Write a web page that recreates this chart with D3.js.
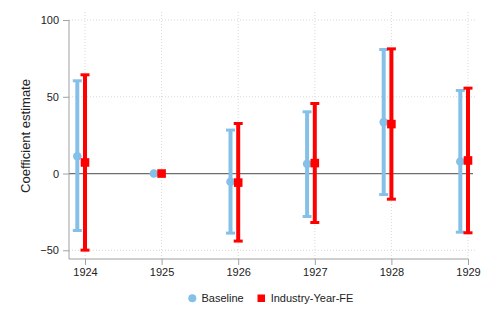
<!DOCTYPE html>
<html><head><meta charset="utf-8">
<script src="https://cdn.jsdelivr.net/npm/d3@7"></script>
<style>body{margin:0;background:#fff}svg{display:block}text{font-family:"Liberation Sans",Arial,sans-serif}</style>
</head><body>
<svg id="c" width="488" height="326"></svg>
<script>
const years = [1924, 1925, 1926, 1927, 1928, 1929];
const baseEst = [11.3, 0, -5.4, 6.3, 33.5, 7.8];
const baseLo  = [-37.1, 0, -38.8, -28.0, -13.7, -38.2];
const baseHi  = [60.4, 0, 28.3, 40.2, 80.8, 54.1];
const fePt    = [7.2, 0, -5.9, 6.8, 32.2, 8.5];
const feLo    = [-49.9, 0, -44.0, -31.9, -16.7, -38.6];
const feHi    = [64.3, 0, 32.6, 45.6, 81.2, 55.6];
const yTicks = [-50, 0, 50, 100];
const seriesNames = ["Baseline", "Industry-Year-FE"];
const blue = "#85C0E8", red = "#FF0000";

const svg = d3.select("#c");
const x = d3.scaleLinear().domain([1924, 1929]).range([85, 468]);
const y = d3.scaleLinear().domain([-50, 100]).range([250.3, 20]);
const pLeft = 69, pBottom = 259, pRight = 476, pTop = 12;
const off = 7.7;

// grid
const g = svg.append("g");
g.selectAll(".vg").data(years).enter().append("line")
  .attr("x1", d => x(d)).attr("x2", d => x(d)).attr("y1", pTop).attr("y2", pBottom)
  .attr("stroke", "#d9d9d9").attr("stroke-width", 1).attr("stroke-dasharray", "1,2");
g.selectAll(".hg").data(yTicks.filter(d => d !== 0)).enter().append("line")
  .attr("x1", pLeft).attr("x2", pRight).attr("y1", d => y(d)).attr("y2", d => y(d))
  .attr("stroke", "#d9d9d9").attr("stroke-width", 1).attr("stroke-dasharray", "1,2");
// zero line
svg.append("line").attr("x1", pLeft).attr("x2", 473).attr("y1", y(0)).attr("y2", y(0))
  .attr("stroke", "#6e6e6e").attr("stroke-width", 1.3);

// axes
const yAxis = d3.axisLeft(y).tickValues(yTicks).tickSize(6).tickPadding(4);
const ya = svg.append("g").attr("transform", `translate(${pLeft},0)`).call(yAxis);
ya.select(".domain").attr("d", `M-0,${y(100)}V${pBottom}`);
const xAxis = d3.axisBottom(x).tickValues(years).tickFormat(d3.format("d")).tickSize(6).tickPadding(3);
const xa = svg.append("g").attr("transform", `translate(0,${pBottom})`).call(xAxis);
xa.select(".domain").attr("d", `M${pLeft},0H${x(1929)}`);
[ya, xa].forEach(a => {
  a.selectAll(".domain").attr("stroke", "#a0a0a0").attr("stroke-width", 1);
  a.selectAll(".tick line").attr("stroke", "#a0a0a0");
  a.selectAll("text").attr("font-size", 11).attr("fill", "#222").attr("font-family", "Liberation Sans, Arial, sans-serif");
});

svg.append("text").attr("transform", `translate(30,${(74+198)/2}) rotate(-90)`)
  .attr("text-anchor", "middle").attr("font-size", 13).attr("fill", "#222")
  .text("Coefficient estimate");

function drawSeries(est, lo, hi, dx, color, shape) {
  const grp = svg.append("g");
  years.forEach((yr, i) => {
    const cx = x(yr) + dx;
    if (hi[i] !== lo[i]) {
      grp.append("line").attr("x1", cx).attr("x2", cx).attr("y1", y(lo[i])).attr("y2", y(hi[i]))
        .attr("stroke", color).attr("stroke-width", 4);
      [lo[i], hi[i]].forEach(v => grp.append("line").attr("x1", cx - 4.5).attr("x2", cx + 4.5)
        .attr("y1", y(v)).attr("y2", y(v)).attr("stroke", color).attr("stroke-width", 3));
    }
    if (shape === "circle") grp.append("circle").attr("cx", cx).attr("cy", y(est[i])).attr("r", 4.3).attr("fill", color);
    else grp.append("rect").attr("x", cx - 4.3).attr("y", y(est[i]) - 4.3).attr("width", 8.6).attr("height", 8.6).attr("fill", color);
  });
}
drawSeries(baseEst, baseLo, baseHi, -off, blue, "circle");
drawSeries(fePt, feLo, feHi, 0, red, "square");

// legend
const lg = svg.append("g");
lg.append("circle").attr("cx", 192.3).attr("cy", 298.3).attr("r", 4).attr("fill", blue);
lg.append("text").attr("x", 201.5).attr("y", 302).attr("font-size", 11).attr("fill", "#222").text(seriesNames[0]);
lg.append("rect").attr("x", 257.5).attr("y", 294.5).attr("width", 7.5).attr("height", 7.5).attr("fill", red);
lg.append("text").attr("x", 270.7).attr("y", 302).attr("font-size", 11).attr("fill", "#222").text(seriesNames[1]);
</script>
</body></html>
